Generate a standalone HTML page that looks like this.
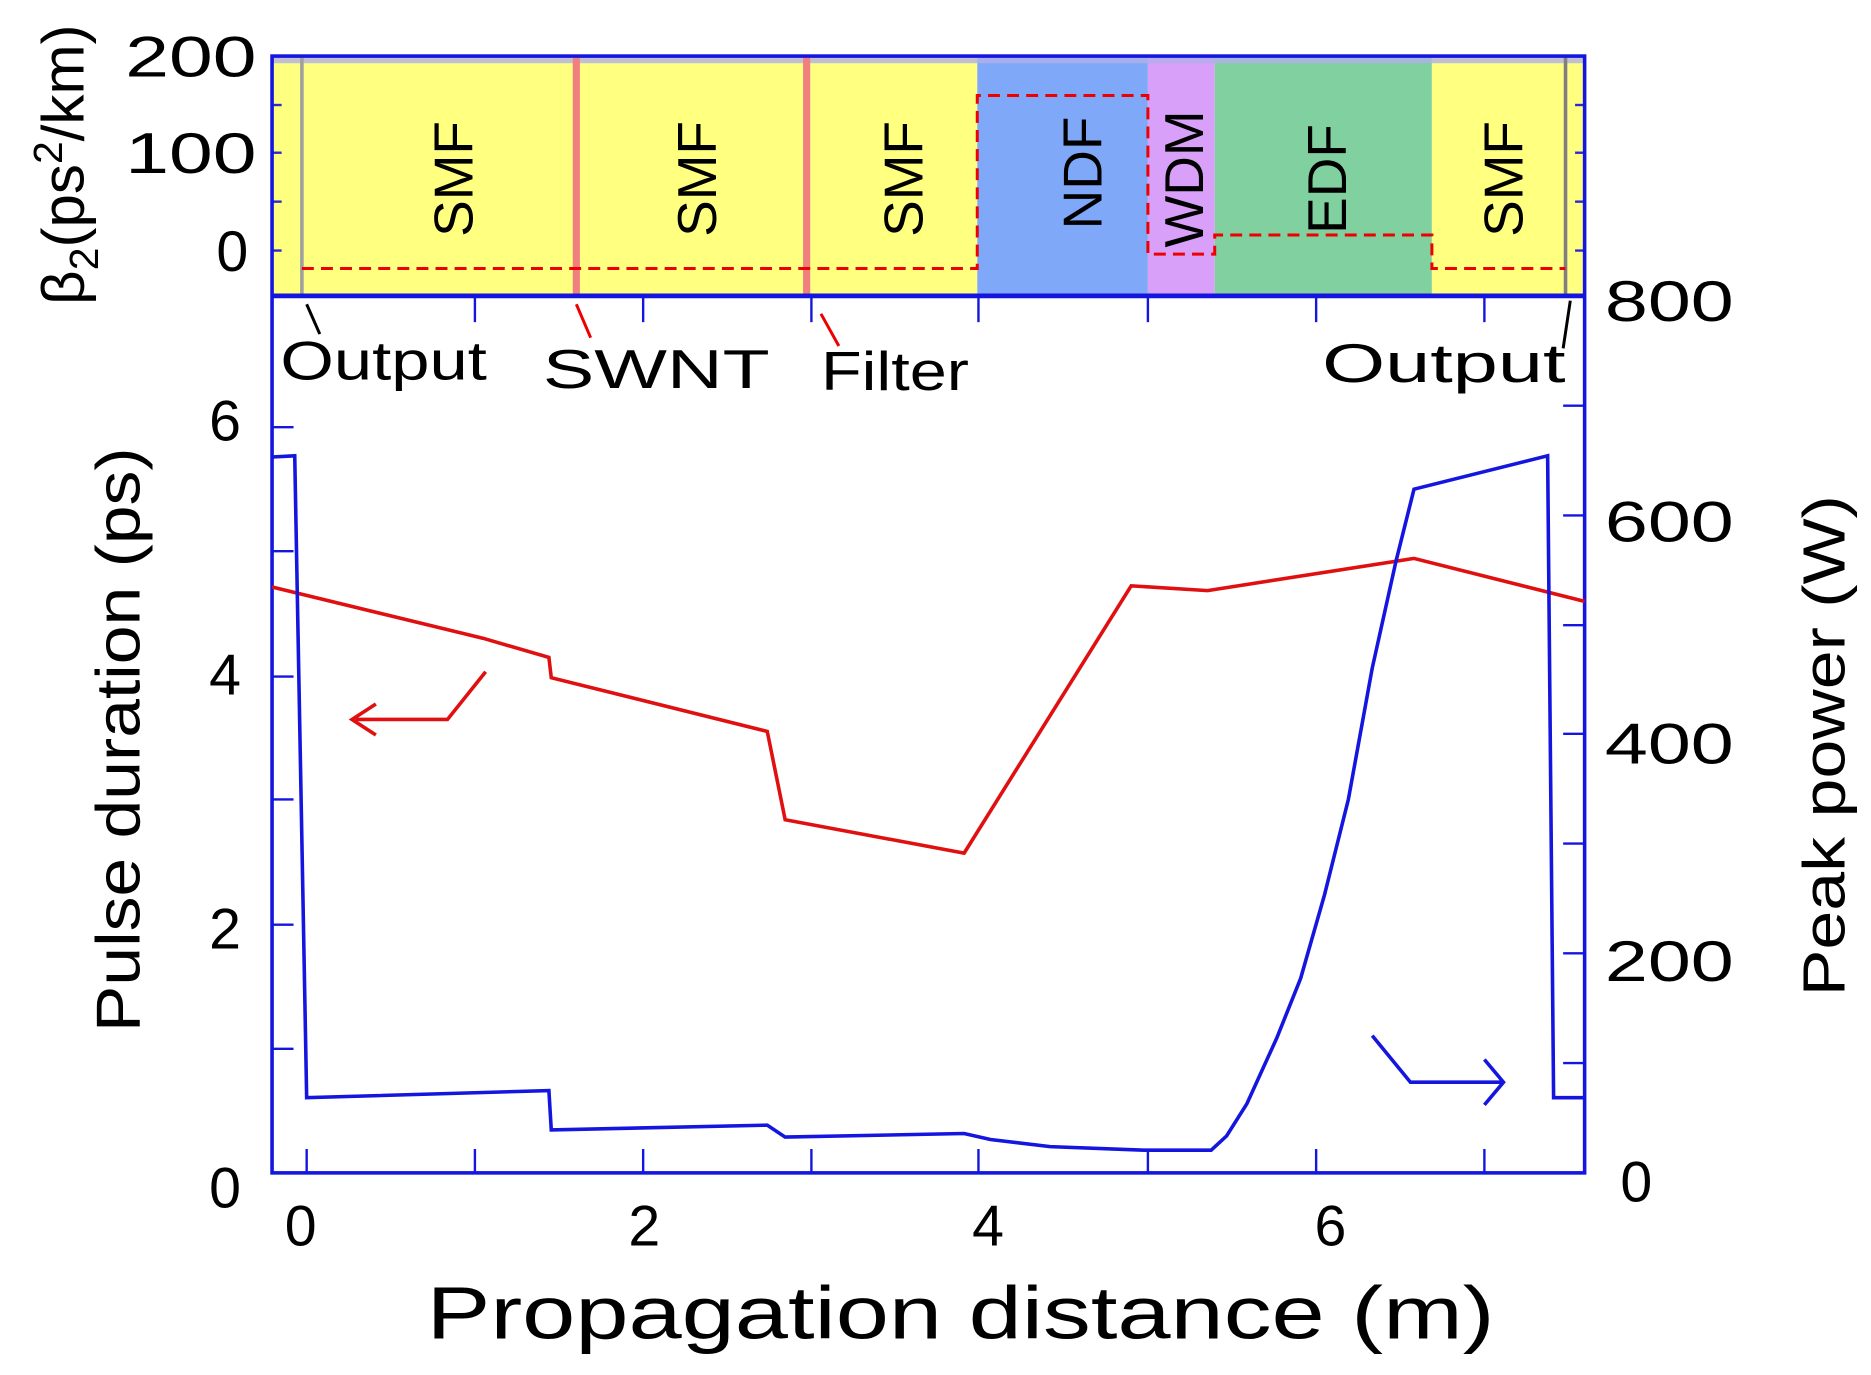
<!DOCTYPE html>
<html><head><meta charset="utf-8"><style>html,body{margin:0;padding:0;background:#fff}svg{display:block}</style></head>
<body>
<svg width="1871" height="1375" viewBox="0 0 1568 1152.4" preserveAspectRatio="none" xmlns="http://www.w3.org/2000/svg" font-family="Liberation Sans, sans-serif">
<rect width="1568" height="1153" fill="#fff"/>
<rect x="228" y="47" width="591" height="201" fill="#ffff80"/>
<rect x="819" y="47" width="143" height="201" fill="#80a8f8"/>
<rect x="962" y="47" width="56" height="201" fill="#d8a0f8"/>
<rect x="1018" y="47" width="182" height="201" fill="#80d0a0"/>
<rect x="1200" y="47" width="128" height="201" fill="#ffff80"/>
<rect x="228" y="47" width="1100" height="6" fill="#b0b0e8" opacity="0.8"/>
<line x1="253" y1="47" x2="253" y2="248" stroke="#a0a0a0" stroke-width="3"/>
<line x1="1312" y1="47" x2="1312" y2="248" stroke="#808080" stroke-width="3"/>
<line x1="483" y1="47" x2="483" y2="248" stroke="#f08080" stroke-width="6"/>
<line x1="676" y1="47" x2="676" y2="248" stroke="#f08080" stroke-width="6"/>
<polyline points="253,225 819,225 819,80 962,80 962,213 1018,213 1018,197 1200,197 1200,225 1312,225" fill="none" stroke="#e00" stroke-width="2.5" stroke-dasharray="10,6"/>
<g stroke="#2a2ad0" stroke-width="2">
<line x1="228" y1="128" x2="236" y2="128"/><line x1="228" y1="210" x2="236" y2="210"/><line x1="228" y1="88" x2="236" y2="88"/><line x1="228" y1="169" x2="236" y2="169"/>
<line x1="1320" y1="88" x2="1328" y2="88"/><line x1="1320" y1="128" x2="1328" y2="128"/><line x1="1320" y1="169" x2="1328" y2="169"/><line x1="1320" y1="210" x2="1328" y2="210"/>
</g>
<g font-size="46" fill="#000" text-anchor="middle">
<text transform="translate(396,150) rotate(-90)">SMF</text>
<text transform="translate(600,150) rotate(-90)">SMF</text>
<text transform="translate(773,150) rotate(-90)">SMF</text>
<text transform="translate(923,145) rotate(-90)">NDF</text>
<text transform="translate(1008,150) rotate(-90)">WDM</text>
<text transform="translate(1128,150) rotate(-90)">EDF</text>
<text transform="translate(1276,150) rotate(-90)">SMF</text>
</g>
<rect x="228" y="47" width="1100" height="936" fill="none" stroke="#1515e0" stroke-width="3"/>
<line x1="228" y1="248" x2="1328" y2="248" stroke="#1515e0" stroke-width="4"/>
<g stroke="#1515e0" stroke-width="2">
<line x1="257" y1="983" x2="257" y2="963"/><line x1="398" y1="983" x2="398" y2="963"/><line x1="539" y1="983" x2="539" y2="963"/><line x1="680" y1="983" x2="680" y2="963"/><line x1="820" y1="983" x2="820" y2="963"/><line x1="962" y1="983" x2="962" y2="963"/><line x1="1103" y1="983" x2="1103" y2="963"/><line x1="1244" y1="983" x2="1244" y2="963"/>
<line x1="398" y1="248" x2="398" y2="270"/><line x1="539" y1="248" x2="539" y2="270"/><line x1="680" y1="248" x2="680" y2="270"/><line x1="820" y1="248" x2="820" y2="270"/><line x1="962" y1="248" x2="962" y2="270"/><line x1="1103" y1="248" x2="1103" y2="270"/><line x1="1244" y1="248" x2="1244" y2="270"/>
<line x1="228" y1="879" x2="246" y2="879"/><line x1="228" y1="775" x2="246" y2="775"/><line x1="228" y1="670" x2="246" y2="670"/><line x1="228" y1="567" x2="246" y2="567"/><line x1="228" y1="462" x2="246" y2="462"/><line x1="228" y1="358" x2="246" y2="358"/>
<line x1="1310" y1="891" x2="1328" y2="891"/><line x1="1310" y1="799" x2="1328" y2="799"/><line x1="1310" y1="707" x2="1328" y2="707"/><line x1="1310" y1="615" x2="1328" y2="615"/><line x1="1310" y1="524" x2="1328" y2="524"/><line x1="1310" y1="432" x2="1328" y2="432"/><line x1="1310" y1="340" x2="1328" y2="340"/>
</g>
<line x1="257" y1="255" x2="268" y2="280" stroke="#000" stroke-width="2.5"/>
<line x1="483" y1="255" x2="495" y2="283" stroke="#e00" stroke-width="2.5"/>
<line x1="688" y1="263" x2="703" y2="290" stroke="#e00" stroke-width="2.5"/>
<line x1="1316" y1="252" x2="1310" y2="292" stroke="#000" stroke-width="2.5"/>
<g font-size="46" fill="#000">
<text x="235" y="318" textLength="173" lengthAdjust="spacingAndGlyphs">Output</text>
<text x="455" y="325" textLength="190" lengthAdjust="spacingAndGlyphs">SWNT</text>
<text x="688" y="327" textLength="124" lengthAdjust="spacingAndGlyphs">Filter</text>
<text x="1108" y="320" textLength="204" lengthAdjust="spacingAndGlyphs">Output</text>
</g>
<polyline points="228,492 405,535 460,551 462,568 643,613 658,687 808,715 948,491 1012,495 1185,468 1328,504" fill="none" stroke="#e01010" stroke-width="3"/>
<polyline points="298,603 375,603 407,563" fill="none" stroke="#e01010" stroke-width="3"/>
<polyline points="315,590 295,603 315,616" fill="none" stroke="#e01010" stroke-width="3"/>
<polyline points="228,383 247,382 257,920 460,914 462,947 643,943 658,953 808,950 830,955 880,961 960,964 1015,964 1028,952 1045,925 1070,870 1090,820 1110,750 1130,670 1150,560 1170,470 1185,410 1297,382 1302,920 1328,920" fill="none" stroke="#1515e0" stroke-width="3"/>
<polyline points="1150,868 1182,907 1258,907" fill="none" stroke="#1515e0" stroke-width="3"/>
<polyline points="1244,888 1260,907 1244,926" fill="none" stroke="#1515e0" stroke-width="3"/>
<g font-size="48" fill="#000">
<g text-anchor="end">
<text x="215" y="64" textLength="110" lengthAdjust="spacingAndGlyphs">200</text><text x="215" y="145" textLength="110" lengthAdjust="spacingAndGlyphs">100</text><text x="208" y="227">0</text>
<text x="202" y="369">6</text><text x="202" y="582">4</text><text x="202" y="795">2</text><text x="202" y="1012">0</text>
</g>
<text x="1345" y="269" textLength="108" lengthAdjust="spacingAndGlyphs">800</text><text x="1345" y="454" textLength="108" lengthAdjust="spacingAndGlyphs">600</text><text x="1345" y="640" textLength="108" lengthAdjust="spacingAndGlyphs">400</text><text x="1345" y="822" textLength="108" lengthAdjust="spacingAndGlyphs">200</text><text x="1358" y="1007">0</text>
<g text-anchor="middle">
<text x="252" y="1044">0</text><text x="540" y="1044">2</text><text x="828" y="1044">4</text><text x="1115" y="1044">6</text>
</g>
</g>
<text x="805" y="1122" font-size="62" text-anchor="middle" textLength="895" lengthAdjust="spacingAndGlyphs">Propagation distance (m)</text>
<text transform="translate(117,620) rotate(-90)" font-size="52" text-anchor="middle" textLength="490" lengthAdjust="spacingAndGlyphs">Pulse duration (ps)</text>
<text transform="translate(1546,625) rotate(-90)" font-size="50" text-anchor="middle" textLength="420" lengthAdjust="spacingAndGlyphs">Peak power (W)</text>
<text transform="translate(70,138) rotate(-90)" font-size="50" text-anchor="middle" textLength="235" lengthAdjust="spacingAndGlyphs">β<tspan font-size="34" dy="12">2</tspan><tspan dy="-12">(ps</tspan><tspan font-size="34" dy="-18">2</tspan><tspan dy="18">/km)</tspan></text>
</svg>
</body></html>
